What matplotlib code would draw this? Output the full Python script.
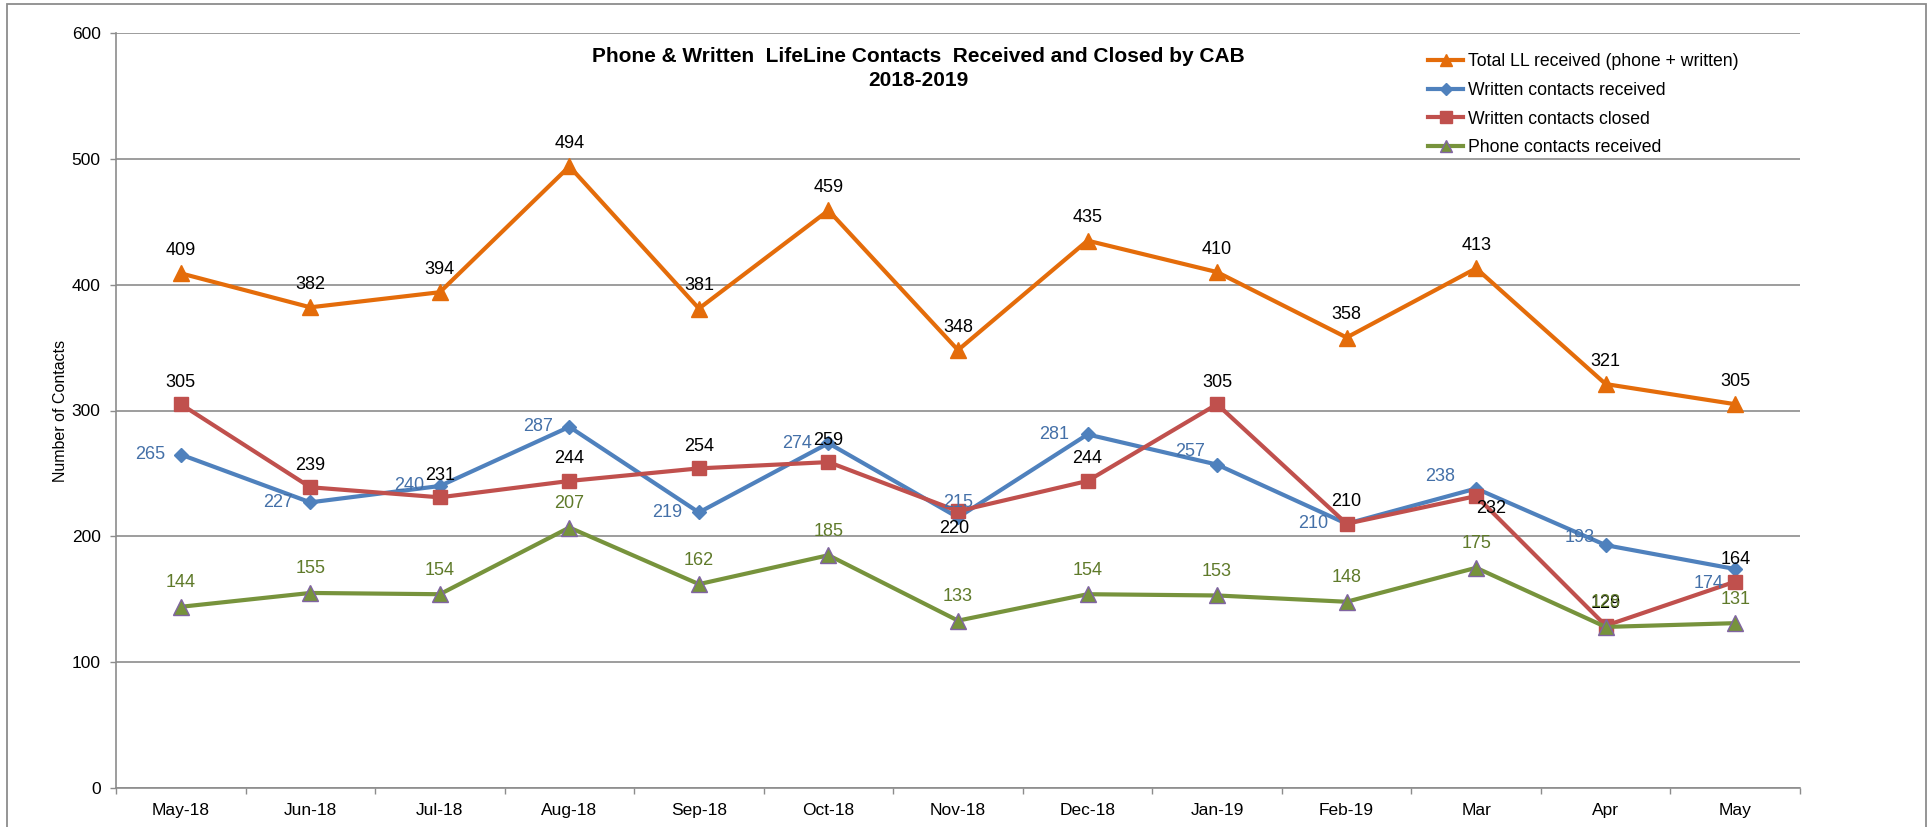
import matplotlib
matplotlib.use('Agg')
import matplotlib.pyplot as plt
from matplotlib.patches import Rectangle

plt.rcParams['font.family'] = ['Liberation Sans', 'DejaVu Sans']

months = ['May-18', 'Jun-18', 'Jul-18', 'Aug-18', 'Sep-18', 'Oct-18', 'Nov-18',
          'Dec-18', 'Jan-19', 'Feb-19', 'Mar', 'Apr', 'May']
total_ll = [409, 382, 394, 494, 381, 459, 348, 435, 410, 358, 413, 321, 305]
written_received = [265, 227, 240, 287, 219, 274, 215, 281, 257, 210, 238, 193, 174]
written_closed = [305, 239, 231, 244, 254, 259, 220, 244, 305, 210, 232, 129, 164]
phone_received = [144, 155, 154, 207, 162, 185, 133, 154, 153, 148, 175, 128, 131]

# label offsets in pixels (dx, dy) from each point
off_total = [(0, 23)] * 13
off_written_rec = [(-31, 0), (-32, 0), (-31, 0), (-31, 0), (-32, 0), (-31, 0), (0, 15),
                   (-33, 0), (-27, 13), (-33, 0), (-36, 12), (-26, 8), (-27, -14)]
off_written_closed = [(0, 22)] * 6 + [(-4, -17)] + [(0, 22)] * 3 + [(15, -12)] + [(0, 22)] * 2
off_phone = [(0, 24)] * 13

W, H = 1933, 827
fig = plt.figure(figsize=(W / 100, H / 100), dpi=100)
fig.patches.append(Rectangle((7 / W, -0.01), (1926 - 7) / W, 1.01 - 4 / H,
                             transform=fig.transFigure, fill=False,
                             edgecolor='#8c8c8c', linewidth=1.3))

ax = fig.add_axes([116 / W, (H - 788) / H, (1800 - 116) / W, (788 - 33) / H])
x = list(range(len(months)))

series = [
    (total_ll, 'Total LL received (phone + written)', '#E46C0A', '^', 11, '#E46C0A', 'black', off_total),
    (written_received, 'Written contacts received', '#4F81BD', 'D', 7.5, '#4F81BD', '#4470A8', off_written_rec),
    (written_closed, 'Written contacts closed', '#C0504D', 's', 10, '#C0504D', 'black', off_written_closed),
    (phone_received, 'Phone contacts received', '#77933C', '^', 11, '#8064A2', '#5F7A2A', off_phone),
]

for vals, name, col, mk, ms, edge, lcol, offs in series:
    ax.plot(x, vals, color=col, lw=3, marker=mk, markersize=ms,
            markerfacecolor=col, markeredgecolor=edge, markeredgewidth=1, label=name)
    for i, v in enumerate(vals):
        ax.annotate(str(v), (x[i], v), xytext=offs[i], textcoords='offset pixels',
                    ha='center', va='center', fontsize=13, color=lcol)

ax.set_xlim(-0.5, len(months) - 0.5)
ax.set_ylim(0, 600)
ax.set_yticks(range(0, 601, 100))
ax.set_xticks(x)
ax.set_xticklabels(months)
ax.set_xticks([i - 0.5 for i in range(len(months) + 1)], minor=True)
ax.tick_params(axis='x', which='major', length=0, pad=11, labelsize=12.5)
ax.tick_params(axis='x', which='minor', length=4, color='#8c8c8c', width=1)
ax.tick_params(axis='y', length=4, color='#8c8c8c', width=1, pad=7, labelsize=12.5)
ax.yaxis.grid(True, color='#8c8c8c', lw=1.2)
ax.set_axisbelow(True)
for s in ['top', 'right']:
    ax.spines[s].set_visible(False)
for s in ['left', 'bottom']:
    ax.spines[s].set_color('#8c8c8c')
    ax.spines[s].set_linewidth(1.2)

ax.set_ylabel('Number of Contacts', fontsize=11.5, labelpad=3)

fig.text(918 / W, 1 - 57 / H, 'Phone & Written  LifeLine Contacts  Received and Closed by CAB',
         ha='center', va='center', fontsize=15, fontweight='bold')
fig.text(918 / W, 1 - 80 / H, '2018-2019', ha='center', va='center', fontsize=15, fontweight='bold')

fig.legend(loc='upper left', bbox_to_anchor=(1428 / W, 1 - 53 / H), bbox_transform=fig.transFigure,
           frameon=False, fontsize=12.7, handlelength=2.0, handletextpad=0.25,
           labelspacing=0.67, borderpad=0, borderaxespad=0, markerscale=0.85)

plt.savefig('out.png', dpi=100)
